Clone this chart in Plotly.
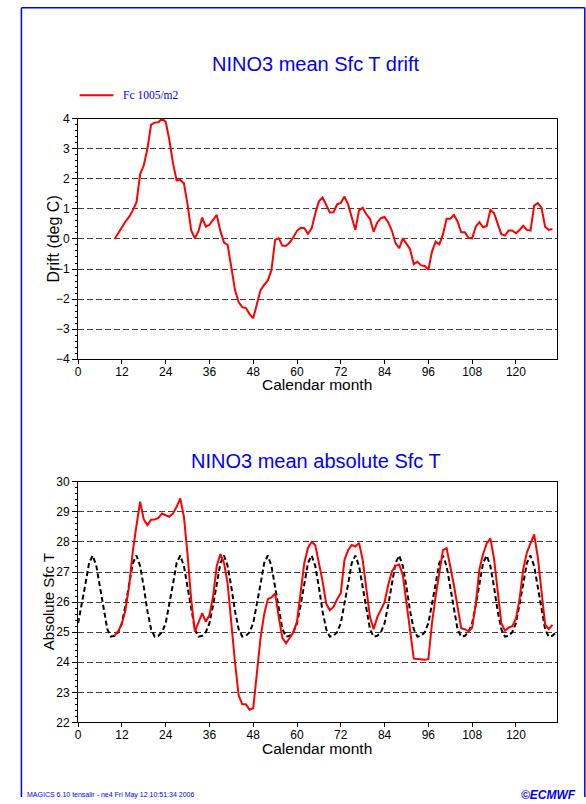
import plotly.graph_objects as go

W, H = 586, 804
# measured vertical placement of the page in the photographed window
Y_SCALE, Y_OFFSET = 0.9805, 7.84


def px(x):
    return x / W


def py(y):
    f = (y - Y_OFFSET) / Y_SCALE
    return 1 - f / H


# ---------------- data ----------------
months_fc = list(range(10, 131))

drift = [
    0.0, 0.2, 0.38, 0.58, 0.74, 0.95, 1.22, 2.15, 2.45, 3.0,          # 10-19
    3.8, 3.87, 3.88, 4.0, 3.9, 3.3, 2.52, 1.95, 1.96, 1.85,           # 20-29
    1.15, 0.28, 0.02, 0.26, 0.71, 0.41, 0.47, 0.63, 0.8, 0.26,        # 30-39
    -0.12, -0.2, -0.9, -1.7, -2.1, -2.27, -2.3, -2.5, -2.64, -2.18,   # 40-49
    -1.7, -1.53, -1.38, -1.03, -0.03, 0.02, -0.23, -0.23, -0.12, 0.06,  # 50-59
    0.27, 0.37, 0.36, 0.17, 0.35, 0.85, 1.25, 1.38, 1.12, 0.88,       # 60-69
    0.89, 1.15, 1.2, 1.41, 1.15, 0.69, 0.3, 0.95, 1.04, 0.82,         # 70-79
    0.67, 0.24, 0.55, 0.69, 0.73, 0.55, 0.28, -0.14, -0.31, 0.02,     # 80-89
    -0.14, -0.34, -0.84, -0.76, -0.88, -0.9, -1.03, -0.42, -0.09, -0.18,  # 90-99
    0.15, 0.67, 0.67, 0.8, 0.58, 0.22, 0.22, 0.04, 0.02, 0.41,        # 100-109
    0.56, 0.39, 0.43, 0.97, 0.86, 0.47, 0.16, 0.11, 0.28, 0.28,       # 110-119
    0.19, 0.3, 0.44, 0.3, 0.28, 1.11, 1.19, 1.04, 0.41, 0.3,          # 120-129
    0.33,                                                             # 130
]

abs_fc = [
    24.9, 25.03, 25.28, 25.75, 26.55, 27.7, 28.55, 29.34, 28.75, 28.56,    # 10-19
    28.74, 28.75, 28.8, 28.95, 28.89, 28.84, 28.95, 29.17, 29.45, 28.84,   # 20-29
    27.58, 26.08, 25.02, 25.3, 25.63, 25.35, 25.57, 26.2, 27.2, 27.6,      # 30-39
    27.3, 26.6, 25.2, 24.0, 22.9, 22.6, 22.6, 22.42, 22.47, 23.7,          # 40-49
    24.8, 25.6, 26.1, 26.16, 26.29, 25.5, 24.8, 24.63, 24.8, 25.0,         # 50-59
    25.35, 26.35, 27.3, 27.8, 28.0, 27.9, 27.35, 26.7, 25.95, 25.73,       # 60-69
    25.84, 26.1, 26.3, 27.4, 27.73, 27.9, 27.85, 27.97, 27.4, 26.4,        # 70-79
    25.5, 25.1, 25.5, 25.75, 26.0, 26.57, 27.02, 27.21, 27.25, 26.9,       # 80-89
    26.0, 25.15, 24.12, 24.11, 24.09, 24.08, 24.1, 25.3, 26.2, 27.0,       # 90-99
    27.73, 27.8, 27.2, 26.57, 25.85, 25.13, 25.1, 25.03, 25.15, 25.95,     # 100-109
    27.1, 27.6, 27.95, 28.12, 27.45, 26.35, 25.3, 25.05, 25.15, 25.2,      # 110-119
    25.45, 26.1, 27.1, 27.65, 27.95, 28.25, 27.5, 26.3, 25.25, 25.1,       # 120-129
    25.24,                                                                 # 130
]

months_clim = list(range(0, 132))
abs_clim = [
    25.3, 25.9, 26.6, 27.3, 27.55, 27.2, 26.5, 25.7, 25.1, 24.85, 24.88, 25.0,
    25.3, 25.9, 26.6, 27.3, 27.55, 27.2, 26.5, 25.7, 25.1, 24.85, 24.88, 25.0,
    25.3, 25.9, 26.6, 27.3, 27.55, 27.2, 26.5, 25.7, 25.1, 24.85, 24.88, 25.0,
    25.3, 25.9, 26.6, 27.3, 27.55, 27.2, 26.5, 25.7, 25.1, 24.85, 24.88, 25.0,
    25.3, 25.9, 26.6, 27.3, 27.55, 27.2, 26.5, 25.7, 25.1, 24.85, 24.88, 25.0,
    25.3, 25.9, 26.6, 27.3, 27.55, 27.2, 26.5, 25.7, 25.1, 24.85, 24.88, 25.0,
    25.3, 25.9, 26.6, 27.3, 27.55, 27.2, 26.5, 25.7, 25.1, 24.85, 24.88, 25.0,
    25.3, 25.9, 26.6, 27.3, 27.55, 27.2, 26.5, 25.7, 25.1, 24.85, 24.88, 25.0,
    25.3, 25.9, 26.6, 27.3, 27.55, 27.2, 26.5, 25.7, 25.1, 24.85, 24.88, 25.0,
    25.3, 25.9, 26.6, 27.3, 27.55, 27.2, 26.5, 25.7, 25.1, 24.85, 24.88, 25.0,
    25.3, 25.9, 26.6, 27.3, 27.55, 27.2, 26.5, 25.7, 25.1, 24.85, 24.88, 25.0,
]

x_ticks = [0, 12, 24, 36, 48, 60, 72, 84, 96, 108, 120]
drift_ticks = [-4, -3, -2, -1, 0, 1, 2, 3, 4]
abs_ticks = [22, 23, 24, 25, 26, 27, 28, 29, 30]

series_name = "Fc 1005/m2"
title_top = "NINO3 mean Sfc T drift"
title_bottom = "NINO3 mean absolute Sfc T"
footer = "MAGICS 6.10 tensalir - ne4 Fri May 12 10:51:34 2006"

# ---------------- figure ----------------
FONT = "Liberation Sans, Arial, sans-serif"
BLUE = "#0000ff"
RED = "#ff0000"

fig = go.Figure()
fig.add_trace(go.Scatter(x=months_fc, y=drift, mode="lines", name=series_name,
                         line=dict(color=RED, width=2), xaxis="x", yaxis="y",
                         showlegend=False))
fig.add_trace(go.Scatter(x=months_clim, y=abs_clim, mode="lines", name="climate",
                         line=dict(color="black", width=2, dash="5px,3px"),
                         xaxis="x2", yaxis="y2", showlegend=False))
fig.add_trace(go.Scatter(x=months_fc, y=abs_fc, mode="lines", name=series_name,
                         line=dict(color=RED, width=2), xaxis="x2", yaxis="y2",
                         showlegend=False))

xdom = [px(75.5), px(557)]
top_dom = [py(359.3), py(119.3)]
bot_dom = [py(721.7), py(481.7)]

xcommon = dict(domain=xdom, range=[0, 131.3], tickmode="array", tickvals=x_ticks,
               ticks="outside", ticklen=4, tickcolor="black", showline=True,
               linecolor="black", linewidth=1, mirror=True, showgrid=False,
               zeroline=False, ticklabelstandoff=-3,
               tickfont=dict(family=FONT, size=12, color="black"))
ycommon = dict(tickmode="array", ticks="outside", ticklen=5, tickcolor="black",
               showline=True, linecolor="black", linewidth=1, mirror=True,
               showgrid=True, gridcolor="#404040", gridwidth=1,
               griddash="6px,3px", zeroline=False,
               minor=dict(dtick=0.2, ticks="outside", ticklen=2,
                          tickcolor="black", showgrid=False),
               tickfont=dict(family=FONT, size=12, color="black"))

fig.update_layout(
    width=W, height=H, margin=dict(l=0, r=0, t=0, b=0),
    paper_bgcolor="white", plot_bgcolor="white",
    xaxis=dict(**xcommon, anchor="y"),
    yaxis=dict(**ycommon, domain=top_dom, range=[-4, 4], tickvals=drift_ticks,
               anchor="x"),
    xaxis2=dict(**xcommon, anchor="y2"),
    yaxis2=dict(**ycommon, domain=bot_dom, range=[22, 30], tickvals=abs_ticks,
                anchor="x2"),
)

ann = []


def text(x, y, s, size, color="black", xanchor="center", angle=0, family=FONT,
         bold=False, italic=False):
    ann.append(dict(x=px(x), y=py(y), xref="paper", yref="paper", text=s,
                    showarrow=False, xanchor=xanchor, yanchor="middle",
                    textangle=angle,
                    font=dict(family=family, size=size, color=color,
                              weight="bold" if bold else "normal",
                              style="italic" if italic else "normal")))


text(314.5, 65, title_top, 20, BLUE)
text(315, 461, title_bottom, 20, BLUE)
text(316, 385, "Calendar month", 15.5)
text(316, 748, "Calendar month", 15.5)
text(51, 239, "Drift (deg C)", 16, angle=-90)
text(46, 601, "Absolute Sfc T", 15, angle=-90)
text(119, 96, series_name, 11.5, BLUE, xanchor="left",
     family="Liberation Serif, Times New Roman, serif")
text(22, 794, footer, 7, BLUE, xanchor="left")
text(578, 794, "©ECMWF", 12, BLUE, xanchor="right", bold=True, italic=True)
fig.update_layout(annotations=ann)

FRAME_TOP = 8.6
FRAME_LEFT = 18.5
FRAME_RIGHT = 584.8
shapes = [
    # legend key line
    dict(type="line", xref="paper", yref="paper", x0=px(77), x1=px(111),
         y0=py(96), y1=py(96), line=dict(color=RED, width=2)),
    # blue page frame
    dict(type="line", xref="paper", yref="paper", x0=px(FRAME_LEFT),
         x1=px(FRAME_LEFT), y0=py(FRAME_TOP), y1=0,
         line=dict(color=BLUE, width=1.5)),
    dict(type="line", xref="paper", yref="paper", x0=px(FRAME_LEFT),
         x1=px(FRAME_RIGHT), y0=py(FRAME_TOP), y1=py(FRAME_TOP),
         line=dict(color=BLUE, width=1.5)),
    dict(type="line", xref="paper", yref="paper", x0=px(FRAME_RIGHT),
         x1=px(FRAME_RIGHT), y0=py(FRAME_TOP), y1=0,
         line=dict(color=BLUE, width=1.5)),
]
fig.update_layout(shapes=shapes)

fig.write_html("out.html")
